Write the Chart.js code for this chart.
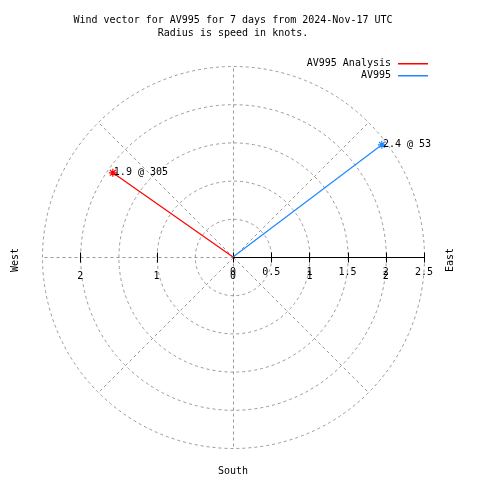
<!DOCTYPE html>
<html lang="en">
<head>
    <meta charset="UTF-8">
    <title>Wind vector</title>
    <style>
        body{ margin: 0; background: #fff; }
        .chart-item{ width: 480px; height: 480px; }
    </style>
</head>
<body>
    <div class="chart-item">
        <canvas id="windchart" width="480" height="480"></canvas>
    </div>

    <script src="https://cdn.jsdelivr.net/npm/chart.js@4.4.1/dist/chart.umd.min.js"></script>
    <script>
        /* data */
        const seriesNames = ['AV995 Analysis', 'AV995'];
        const speeds = [1.92, 2.44];          // knots
        const directions = [305, 53];        // degrees from north
        const seriesColors = ['#ff0000', '#1e88ff'];

        const titleLines = ['Wind vector for AV995 for 7 days from 2024-Nov-17 UTC', 'Radius is speed in knots.'];
        const rings = [0.5, 1, 1.5, 2, 2.5];
        const spokes = [0, 45, 90, 135, 180, 225, 270, 315];
        const upperTicks = [0, 0.5, 1, 1.5, 2, 2.5];
        const upperTickLabels = ['0', '0.5', '1', '1.5', '2', '2.5'];
        const lowerTicks = [-2, -1, 0, 1, 2];
        const lowerTickLabels = ['2', '1', '0', '1', '2'];
        const tickMarks = [-2, -1, 0, 0.5, 1, 1.5, 2, 2.5];

        const FONT = '10px "DejaVu Sans Mono", monospace';

        // each vector goes from the centre to its tip
        const datasets = speeds.map((s, i) => {
            const a = directions[i] * Math.PI / 180;
            return {
                label: seriesNames[i],
                data: [{x: 0, y: 0}, {x: s * Math.sin(a), y: s * Math.cos(a)}],
                showLine: true,
                borderColor: seriesColors[i],
                backgroundColor: seriesColors[i],
                borderWidth: 1.2,
                pointStyle: 'star',
                pointRadius: [0, 4],
                pointBorderWidth: 1.2
            };
        });

        const polarGrid = {
            id: 'polarGrid',
            beforeDatasetsDraw(chart){
                const ctx = chart.ctx;
                const sx = chart.scales.x, sy = chart.scales.y;
                const cx = Math.round(sx.getPixelForValue(0)) + 0.5;
                const cy = Math.round(sy.getPixelForValue(0)) + 0.5;
                const unit = sx.getPixelForValue(1) - sx.getPixelForValue(0);
                const rMax = rings[rings.length - 1] * unit;

                ctx.save();
                ctx.strokeStyle = '#999';
                ctx.lineWidth = 1;
                ctx.setLineDash([3, 3]);
                rings.forEach(r => {
                    ctx.beginPath();
                    ctx.arc(cx, cy, r * unit, 0, Math.PI * 2);
                    ctx.stroke();
                });
                spokes.forEach(d => {
                    const a = d * Math.PI / 180;
                    ctx.beginPath();
                    ctx.moveTo(cx, cy);
                    ctx.lineTo(cx + rMax * Math.sin(a), cy - rMax * Math.cos(a));
                    ctx.stroke();
                });
                ctx.setLineDash([]);

                // solid axis with ticks
                ctx.strokeStyle = '#000';
                ctx.beginPath();
                ctx.moveTo(cx, cy);
                ctx.lineTo(cx + rMax, cy);
                ctx.stroke();
                tickMarks.forEach(v => {
                    const px = Math.round(sx.getPixelForValue(v)) + 0.5;
                    ctx.beginPath();
                    ctx.moveTo(px, cy - 5);
                    ctx.lineTo(px, cy + 5);
                    ctx.stroke();
                });

                ctx.fillStyle = '#000';
                ctx.font = FONT;
                ctx.textAlign = 'center';
                ctx.textBaseline = 'middle';
                upperTicks.forEach((v, i) => ctx.fillText(upperTickLabels[i], sx.getPixelForValue(v), cy + 15));
                lowerTicks.forEach((v, i) => ctx.fillText(lowerTickLabels[i], sx.getPixelForValue(v), cy + 19));
                ctx.restore();
            },
            afterDraw(chart){
                const ctx = chart.ctx;
                const sx = chart.scales.x, sy = chart.scales.y;
                const cx = sx.getPixelForValue(0);
                ctx.save();
                ctx.fillStyle = '#000';
                ctx.font = FONT;
                ctx.textBaseline = 'middle';

                // title
                ctx.textAlign = 'center';
                titleLines.forEach((t, i) => ctx.fillText(t, cx, 20 + i * 13));

                // legend
                seriesNames.forEach((n, i) => {
                    const y = 63 + i * 12;
                    ctx.textAlign = 'right';
                    ctx.fillStyle = '#000';
                    ctx.fillText(n, 391, y);
                    ctx.fillStyle = seriesColors[i];
                    ctx.fillRect(398, y, 30, 1.5);
                });

                // vector labels
                ctx.textAlign = 'left';
                ctx.fillStyle = '#000';
                datasets.forEach((d, i) => {
                    const tip = d.data[1];
                    const label = speeds[i].toFixed(1) + ' @ ' + directions[i];
                    ctx.fillText(label, sx.getPixelForValue(tip.x) + 1, sy.getPixelForValue(tip.y));
                });

                // compass labels
                ctx.textAlign = 'center';
                ctx.fillText('South', cx, 471);
                [['West', 15], ['East', 450]].forEach(([t, x]) => {
                    ctx.save();
                    ctx.translate(x, 260);
                    ctx.rotate(-Math.PI / 2);
                    ctx.fillText(t, 0, 0);
                    ctx.restore();
                });
                ctx.restore();
            }
        };

        new Chart(document.getElementById('windchart'), {
            type: 'scatter',
            data: { datasets: datasets },
            options: {
                responsive: false,
                animation: false,
                layout: { padding: { left: 42, right: 56, top: 66, bottom: 32 } },
                scales: {
                    x: { type: 'linear', min: -2.5, max: 2.5, display: false },
                    y: { type: 'linear', min: -2.5, max: 2.5, display: false }
                },
                plugins: {
                    legend: { display: false },
                    title: { display: false },
                    tooltip: { enabled: false }
                }
            },
            plugins: [polarGrid]
        });
    </script>
</body>
</html>
